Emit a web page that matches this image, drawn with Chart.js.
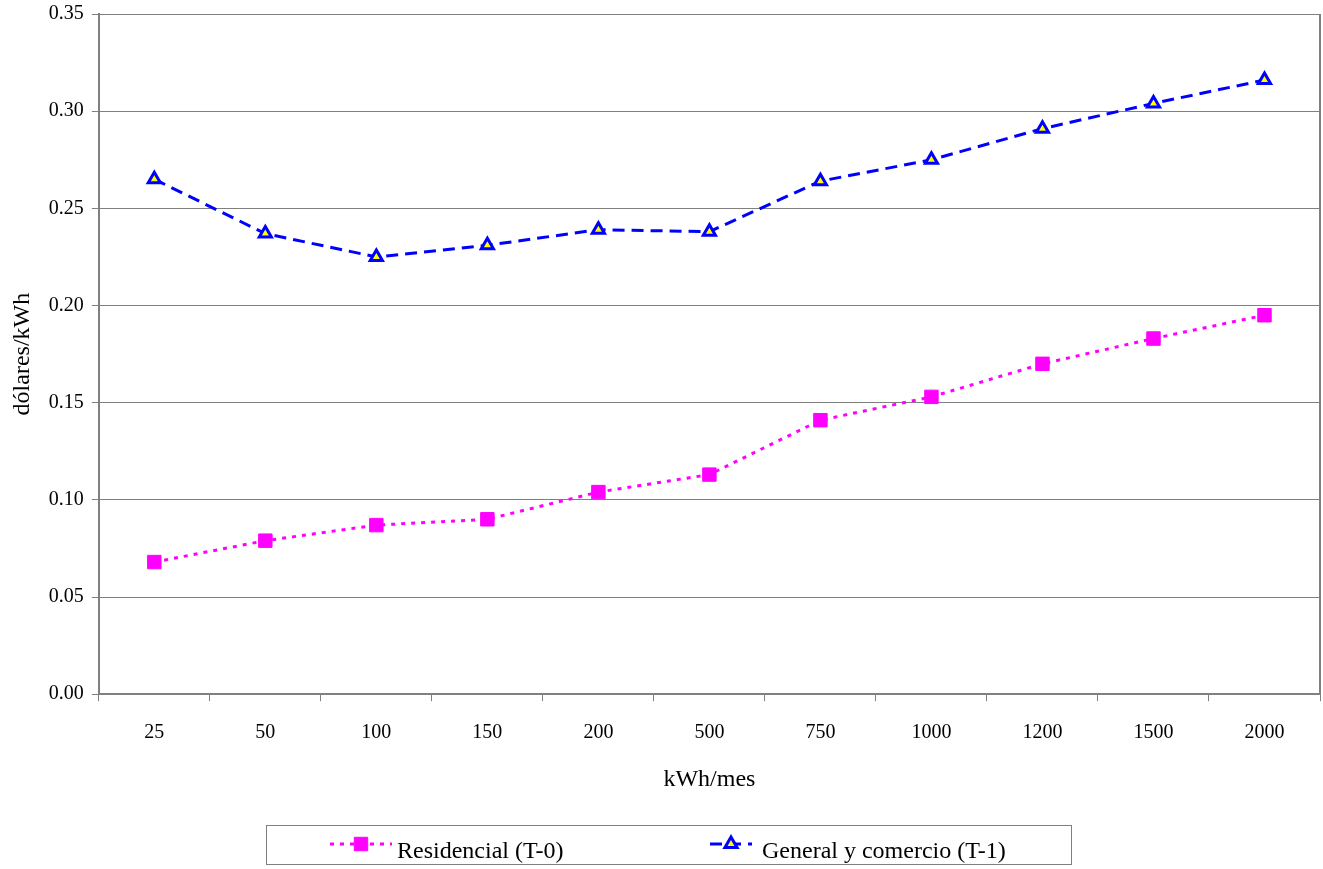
<!DOCTYPE html>
<html>
<head>
<meta charset="utf-8">
<title>Tarifas</title>
<script src="https://cdn.jsdelivr.net/npm/chart.js@4.4.1/dist/chart.umd.min.js"></script>
<style>
    body { margin: 0; background: #fff; }
    canvas { display: block; }
</style>
</head>
<body>
<canvas id="myChart" width="1323" height="869"></canvas>
<script>
// datos
const categorias = ["25", "50", "100", "150", "200", "500", "750", "1000", "1200", "1500", "2000"];
const residencial = [0.068, 0.079, 0.087, 0.090, 0.104, 0.113, 0.141, 0.153, 0.170, 0.183, 0.195];
const general = [0.265, 0.237, 0.225, 0.231, 0.239, 0.238, 0.264, 0.275, 0.291, 0.304, 0.316];
const yTicks = [0, 0.05, 0.10, 0.15, 0.20, 0.25, 0.30, 0.35];

const serif = "'Liberation Serif', 'Times New Roman', serif";
const gris = "#808080";

function marca(ctx, ds, x, y) {
    ctx.save();
    ctx.setLineDash([]);
    ctx.fillStyle = ds.pointBackgroundColor;
    ctx.strokeStyle = ds.pointBorderColor;
    ctx.lineWidth = ds.pointBorderWidth;
    const r = ds.pointRadius;
    ctx.beginPath();
    if (ds.pointStyle === "rect") {
        const s = Math.SQRT1_2 * r;
        ctx.rect(x - s, y - s, 2 * s, 2 * s);
    } else {
        for (let k = 0; k < 3; k++) {
            const a = k * 2 * Math.PI / 3;
            ctx.lineTo(x + Math.sin(a) * r, y - Math.cos(a) * r);
        }
        ctx.closePath();
    }
    ctx.fill();
    ctx.stroke();
    ctx.restore();
}

// leyenda con recuadro
const leyenda = {
    id: "leyenda",
    afterDraw(chart) {
        const ctx = chart.ctx;
        const caja = { left: 266, top: 825, right: 1071, bottom: 864 };
        const items = [
            { x0: 330, x1: 392, text: 397 },
            { x0: 710, x1: 752, text: 762 }
        ];
        const y = 844;
        ctx.save();
        ctx.strokeStyle = gris;
        ctx.lineWidth = 1;
        ctx.strokeRect(caja.left + 0.5, caja.top + 0.5, caja.right - caja.left, caja.bottom - caja.top);
        chart.data.datasets.forEach(function (ds, i) {
            const it = items[i];
            ctx.strokeStyle = ds.borderColor;
            ctx.lineWidth = ds.borderWidth;
            ctx.setLineDash(ds.borderDash);
            ctx.beginPath();
            ctx.moveTo(it.x0, y);
            ctx.lineTo(it.x1, y);
            ctx.stroke();
            marca(ctx, ds, (it.x0 + it.x1) / 2, y);
            ctx.setLineDash([]);
            ctx.fillStyle = "#000";
            ctx.font = "24px " + serif;
            ctx.textBaseline = "alphabetic";
            ctx.fillText(ds.label, it.text, 858);
        });
        ctx.restore();
    }
};

// borde derecho del area
const marco = {
    id: "marco",
    beforeDatasetsDraw(chart) {
        const a = chart.chartArea;
        const ctx = chart.ctx;
        ctx.save();
        ctx.strokeStyle = gris;
        ctx.lineWidth = 2;
        ctx.beginPath();
        ctx.moveTo(a.right, a.top);
        ctx.lineTo(a.right, a.bottom);
        ctx.stroke();
        ctx.restore();
    }
};

const ctx = document.querySelector("#myChart").getContext("2d");
const myChart = new Chart(ctx, {
    type: "line",
    data: {
        labels: categorias,
        datasets: [{
            label: "Residencial (T-0)",
            data: residencial,
            borderColor: "#ff00ff",
            borderWidth: 3,
            borderDash: [4, 6],
            pointStyle: "rect",
            pointRadius: 9.5,
            pointBackgroundColor: "#ff00ff",
            pointBorderColor: "#ff00ff",
            pointBorderWidth: 1,
            tension: 0
        }, {
            label: "General y comercio (T-1)",
            data: general,
            borderColor: "#0000ff",
            borderWidth: 3,
            borderDash: [12, 7],
            pointStyle: "triangle",
            pointRadius: 7,
            pointBackgroundColor: "#ffff00",
            pointBorderColor: "#0000ff",
            pointBorderWidth: 3,
            tension: 0
        }]
    },
    options: {
        responsive: false,
        animation: false,
        layout: {
            autoPadding: false,
            padding: { top: 14, right: 3, bottom: 69, left: 0 }
        },
        plugins: {
            legend: { display: false },
            tooltip: { enabled: false }
        },
        scales: {
            x: {
                offset: true,
                afterFit(scale) {
                    scale.paddingLeft = 0;
                    scale.paddingRight = 0;
                },
                grid: {
                    offset: true,
                    drawOnChartArea: false,
                    drawTicks: true,
                    tickLength: 7,
                    color: gris
                },
                border: { color: gris, width: 2 },
                ticks: {
                    color: "#000",
                    padding: 20,
                    font: { family: serif, size: 20 }
                },
                title: {
                    display: true,
                    text: "kWh/mes",
                    color: "#000",
                    padding: { top: 0, bottom: 6 },
                    font: { family: serif, size: 24 }
                }
            },
            y: {
                min: 0,
                max: 0.35,
                afterBuildTicks(scale) {
                    scale.ticks = yTicks.map(v => ({ value: v }));
                },
                afterFit(scale) {
                    scale.paddingTop = 0;
                    scale.paddingBottom = 0;
                },
                grid: {
                    color: gris,
                    lineWidth: 1,
                    tickLength: 7
                },
                border: { color: gris, width: 2 },
                ticks: {
                    color: "#000",
                    padding: 8,
                    font: { family: serif, size: 20 },
                    callback: v => v.toFixed(2)
                },
                title: {
                    display: true,
                    text: "dólares/kWh",
                    color: "#000",
                    padding: { top: 8, bottom: 4 },
                    font: { family: serif, size: 24 }
                }
            }
        }
    },
    plugins: [marco, leyenda]
});
</script>
</body>
</html>
